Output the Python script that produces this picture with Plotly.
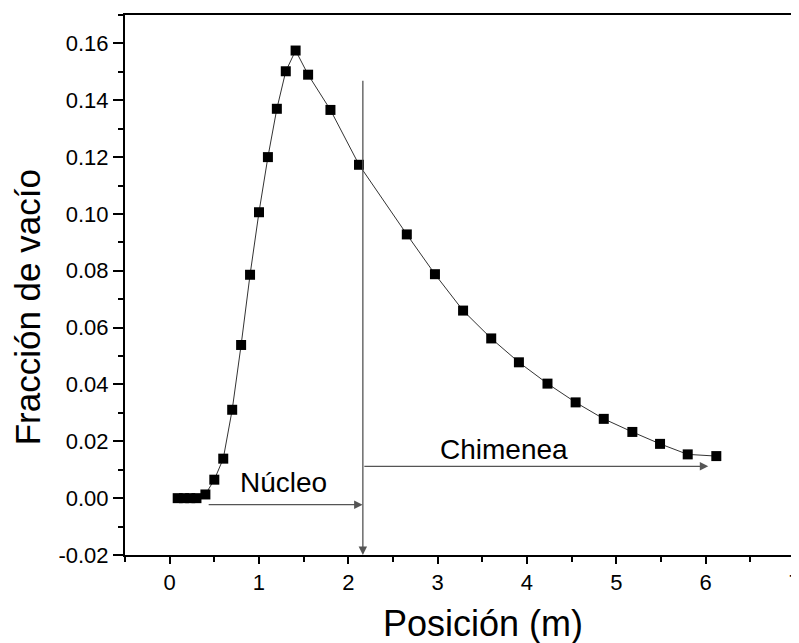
import plotly.graph_objects as go

# Data
posicion = [0.09, 0.16, 0.23, 0.30, 0.40, 0.50, 0.60, 0.70, 0.80, 0.90, 1.00,
            1.10, 1.20, 1.30, 1.41, 1.55, 1.80, 2.12, 2.655, 2.97, 3.285,
            3.60, 3.91, 4.23, 4.545, 4.86, 5.18, 5.49, 5.80, 6.12]
fraccion = [0.0, 0.0, 0.0, 0.0, 0.0013, 0.0065, 0.0139, 0.0311, 0.0539, 0.0786, 0.1006,
            0.1200, 0.1370, 0.1502, 0.1575, 0.1490, 0.1366, 0.1173, 0.0928, 0.0788, 0.0660,
            0.0562, 0.0478, 0.0403, 0.0337, 0.0279, 0.0233, 0.0191, 0.0154, 0.0148]

# Region boundary and labels
limite_x = 2.163
limite_y_top = 0.1474
nucleo_arrow_x = [0.42, 2.16]
nucleo_arrow_y = -0.0023
chimenea_arrow_x = [2.163, 6.03]
chimenea_arrow_y = 0.0112
etiquetas = ["Núcleo", "Chimenea"]
etiquetas_x = [1.28, 3.74]
etiquetas_y = [0.0056, 0.0172]

x_ticks = [0, 1, 2, 3, 4, 5, 6, 7]
y_ticks = [-0.02, 0.00, 0.02, 0.04, 0.06, 0.08, 0.10, 0.12, 0.14, 0.16]

FONT = "Liberation Sans, Arial, sans-serif"

fig = go.Figure()
fig.add_trace(go.Scatter(
    x=posicion, y=fraccion, mode="lines+markers",
    line=dict(color="#333333", width=1),
    marker=dict(symbol="square", size=10, color="black"),
    showlegend=False, cliponaxis=False,
))

arrow_color = "#555555"
annotations = [
    # vertical boundary line with arrow pointing down
    dict(x=limite_x, y=-0.02, ax=limite_x, ay=limite_y_top, xref="x", yref="y",
         axref="x", ayref="y", text="", showarrow=True, arrowhead=2,
         arrowsize=1.3, arrowwidth=1.3, arrowcolor=arrow_color),
    # Núcleo arrow
    dict(x=nucleo_arrow_x[1], y=nucleo_arrow_y, ax=nucleo_arrow_x[0], ay=nucleo_arrow_y,
         xref="x", yref="y", axref="x", ayref="y", text="", showarrow=True,
         arrowhead=2, arrowsize=1.3, arrowwidth=1.3, arrowcolor=arrow_color),
    # Chimenea arrow
    dict(x=chimenea_arrow_x[1], y=chimenea_arrow_y, ax=chimenea_arrow_x[0], ay=chimenea_arrow_y,
         xref="x", yref="y", axref="x", ayref="y", text="", showarrow=True,
         arrowhead=2, arrowsize=1.3, arrowwidth=1.3, arrowcolor=arrow_color),
]
for t, tx, ty in zip(etiquetas, etiquetas_x, etiquetas_y):
    annotations.append(dict(x=tx, y=ty, xref="x", yref="y", text=t, showarrow=False,
                            font=dict(family=FONT, size=28, color="black"),
                            xanchor="center", yanchor="middle"))
# axis titles
annotations.append(dict(x=0.534, y=-0.126, xref="paper", yref="paper", text="Posición (m)",
                        showarrow=False, font=dict(family=FONT, size=36, color="black"),
                        xanchor="center", yanchor="middle"))
annotations.append(dict(x=-0.146, y=0.459, xref="paper", yref="paper", text="Fracción de vacío",
                        showarrow=False, textangle=-90,
                        font=dict(family=FONT, size=35, color="black"),
                        xanchor="center", yanchor="middle"))

axis_common = dict(
    showline=True, linecolor="black", linewidth=2, mirror=True, automargin=False,
    showgrid=False, zeroline=False, ticks="outside", tickcolor="black",
    tickwidth=1.5, tickfont=dict(family=FONT, size=22, color="black"),
    ticklabeloverflow="allow",
)

# the page body adds an 8px offset, so the figure is 8px smaller than the window
fig.update_layout(
    width=791, height=635,
    margin=dict(l=117, r=4, t=7, b=88),
    paper_bgcolor="white", plot_bgcolor="white",
    annotations=annotations,
    xaxis=dict(range=[-0.5, 7.001], tickvals=x_ticks, ticktext=[str(v) for v in x_ticks],
               ticklen=7, minor=dict(ticks="outside", dtick=0.5, ticklen=5,
                                      tickcolor="black", tickwidth=1.5),
               **axis_common),
    yaxis=dict(range=[-0.02, 0.17], tickvals=y_ticks,
               ticktext=[f"{v:.2f}" for v in y_ticks],
               ticklen=10, minor=dict(ticks="outside", dtick=0.01, tick0=0, ticklen=5,
                                       tickcolor="black", tickwidth=1.5),
               **axis_common),
)

fig.write_html("out.html")
